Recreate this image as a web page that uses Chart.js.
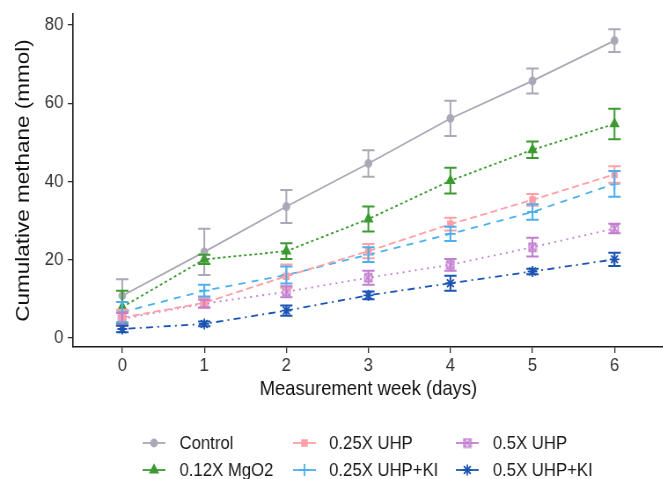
<!DOCTYPE html>
<html>
<head>
<meta charset="utf-8">
<script src="https://cdn.jsdelivr.net/npm/chart.js@4"></script>
<style>
  html, body { margin: 0; padding: 0; background: #fff; overflow: hidden; }
  #wrap { width: 762px; height: 479px; transform: scaleX(0.88); transform-origin: 0 0; }
  #myChart { display: block; }
</style>
</head>
<body>
<div id="wrap"><canvas id="myChart" width="762" height="479"></canvas></div>
<script>
// semaines de mesure
const weeks = [0, 1, 2, 3, 4, 5, 6];
const yTicks = [0, 20, 40, 60, 80];

// moyennes (mmol) et écarts
const control = [10.8, 22.0, 33.6, 44.6, 56.1, 65.7, 76.0];
const controlSd = [4.2, 5.9, 4.2, 3.4, 4.5, 3.2, 2.9];
const mgo2 = [7.9, 20.1, 22.2, 30.4, 40.2, 48.1, 54.7];
const mgo2Sd = [4.2, 1.2, 2.0, 3.2, 3.3, 2.1, 3.9];
const uhp025 = [5.2, 9.0, 15.8, 22.2, 29.1, 35.3, 41.8];
const uhp025Sd = [2.0, 1.3, 3.0, 1.8, 1.6, 1.5, 2.1];
const uhp025Ki = [6.6, 12.1, 16.1, 21.3, 26.6, 32.2, 39.4];
const uhp025KiSd = [2.6, 1.5, 2.2, 1.9, 1.8, 2.0, 3.3];
const uhp05 = [4.9, 8.8, 11.8, 15.4, 18.7, 23.2, 28.0];
const uhp05Sd = [1.5, 1.0, 1.4, 1.8, 1.5, 2.4, 1.2];
const uhp05Ki = [2.3, 3.6, 7.0, 10.9, 14.0, 17.0, 20.1];
const uhp05KiSd = [0.8, 0.6, 1.3, 1.0, 1.9, 0.7, 1.7];

const FONT = "'Liberation Sans', Arial, sans-serif";

// carré avec croix (forme 7 de ggplot)
function squareCross(color) {
    const c = document.createElement('canvas');
    c.width = 11; c.height = 11;
    const g = c.getContext('2d');
    g.strokeStyle = color;
    g.lineWidth = 1.6;
    g.strokeRect(1.5, 1.5, 8, 8);
    g.beginPath();
    g.moveTo(1.5, 1.5); g.lineTo(9.5, 9.5);
    g.moveTo(9.5, 1.5); g.lineTo(1.5, 9.5);
    g.stroke();
    return c;
}

function serie(label, values, sd, color, dash, pointStyle, radius) {
    return {
        label: label,
        data: weeks.map((w, i) => ({ x: w, y: values[i] })),
        sd: sd,
        borderColor: color,
        backgroundColor: color,
        borderWidth: 1.8,
        borderDash: dash,
        pointStyle: pointStyle,
        pointRadius: radius,
        pointBorderWidth: 1.8,
        pointHoverRadius: radius,
        fill: false,
        tension: 0
    };
}

const purple = '#C27ED0';
const datasets = [
    serie('Control', control, controlSd, '#A9A9B7', [], 'circle', 3.5),
    serie('0.12X MgO2', mgo2, mgo2Sd, '#3C9A31', [3, 3], 'triangle', 5),
    serie('0.25X UHP', uhp025, uhp025Sd, '#FF9FA6', [8, 4], 'rect', 4),
    serie('0.25X UHP+KI', uhp025Ki, uhp025KiSd, '#4DB0EE', [8, 7], 'cross', 6),
    serie('0.5X UHP', uhp05, uhp05Sd, purple, [2, 5], squareCross(purple), 5),
    serie('0.5X UHP+KI', uhp05Ki, uhp05KiSd, '#1C54B2', [2, 5, 8, 5], 'star', 5.5)
];

// barres d'erreur
const errorBars = {
    id: 'errorBars',
    afterDatasetsDraw(chart) {
        const { ctx, scales: { x, y } } = chart;
        ctx.save();
        chart.data.datasets.forEach(ds => {
            ctx.strokeStyle = ds.borderColor;
            ctx.lineWidth = 2;
            ctx.setLineDash([]);
            ds.data.forEach((p, i) => {
                const px = x.getPixelForValue(p.x);
                const top = y.getPixelForValue(p.y + ds.sd[i]);
                const bot = y.getPixelForValue(p.y - ds.sd[i]);
                const w = 7;
                ctx.beginPath();
                ctx.moveTo(px, top); ctx.lineTo(px, bot);
                ctx.moveTo(px - w, top); ctx.lineTo(px + w, top);
                ctx.moveTo(px - w, bot); ctx.lineTo(px + w, bot);
                ctx.stroke();
            });
        });
        ctx.restore();
    }
};

// légende en 3 colonnes, remplie par colonne
const legendCols = [162, 333, 518];
const legendText = [204, 374, 560];
const legendRows = [443, 470];
const bottomLegend = {
    id: 'bottomLegend',
    afterDraw(chart) {
        const ctx = chart.ctx;
        ctx.save();
        chart.data.datasets.forEach((ds, i) => {
            const col = Math.floor(i / 2);
            const row = i % 2;
            const x0 = legendCols[col];
            const yy = legendRows[row];
            ctx.strokeStyle = ds.borderColor;
            ctx.fillStyle = ds.backgroundColor;
            ctx.lineWidth = 1.8;
            ctx.setLineDash([]);
            ctx.beginPath();
            ctx.moveTo(x0, yy); ctx.lineTo(x0 + 26, yy);
            ctx.stroke();
            Chart.helpers.drawPoint(ctx, {
                pointStyle: ds.pointStyle,
                radius: ds.pointRadius,
                borderWidth: 1.8,
                rotation: 0
            }, x0 + 13, yy);
            ctx.fillStyle = '#1a1a1a';
            ctx.font = '19px ' + FONT;
            ctx.textBaseline = 'middle';
            ctx.textAlign = 'left';
            ctx.fillText(ds.label, legendText[col], yy + 1);
        });
        ctx.restore();
    }
};

new Chart(document.getElementById('myChart'), {
    type: 'line',
    data: { datasets: datasets },
    plugins: [errorBars, bottomLegend],
    options: {
        responsive: false,
        animation: false,
        layout: { padding: { top: 14, right: 0, left: 0, bottom: 0 } },
        plugins: { legend: { display: false }, tooltip: { enabled: false } },
        scales: {
            x: {
                type: 'linear',
                min: -0.6,
                max: 6.6,
                afterBuildTicks: s => { s.ticks = weeks.map(v => ({ value: v })); },
                afterFit: s => { s.height = 132; s.paddingLeft = 0; s.paddingRight = 0; },
                ticks: { color: '#333', font: { family: FONT, size: 19 }, padding: 1 },
                grid: { drawOnChartArea: false, drawTicks: true, tickLength: 6, color: '#333', lineWidth: 1.3 },
                border: { color: '#1a1a1a', width: 1.6 },
                title: {
                    display: true,
                    text: 'Measurement week (days)',
                    color: '#111',
                    font: { family: FONT, size: 21 },
                    padding: { top: 0, bottom: 77 }
                }
            },
            y: {
                min: -2.3,
                max: 82.8,
                afterBuildTicks: s => { s.ticks = yTicks.map(v => ({ value: v })); },
                afterFit: s => { s.width = 83; s.paddingTop = 0; s.paddingBottom = 0; },
                ticks: { color: '#333', font: { family: FONT, size: 19 }, padding: 5 },
                grid: { drawOnChartArea: false, drawTicks: true, tickLength: 6, color: '#333', lineWidth: 1.3 },
                border: { color: '#1a1a1a', width: 1.6 },
                title: {
                    display: true,
                    text: 'Cumulative methane (mmol)',
                    color: '#111',
                    font: { family: FONT, size: 22.5 },
                    padding: { top: 13, bottom: 0 }
                }
            }
        }
    }
});
</script>
</body>
</html>
